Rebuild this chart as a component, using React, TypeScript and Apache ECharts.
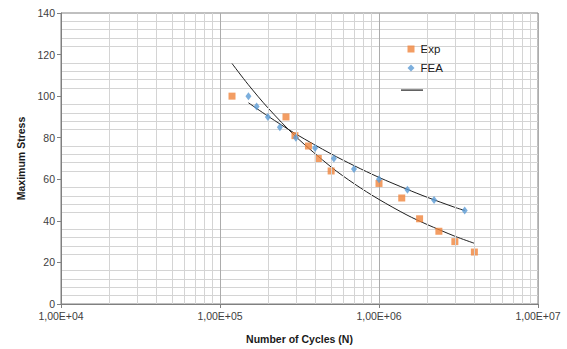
import React, { useEffect, useRef } from "react";
import * as echarts from "echarts";

const EXP_X = [1.19e5, 2.6e5, 2.96e5, 3.6e5, 4.15e5, 5.0e5, 1.0e6, 1.39e6, 1.8e6, 2.38e6, 3.0e6, 3.98e6];
const EXP_Y = [100, 90, 81, 76, 70, 64, 58, 51, 41, 35, 30, 25];

const FEA_X = [1.51e5, 1.7e5, 2.0e5, 2.38e5, 3.0e5, 3.96e5, 5.2e5, 6.96e5, 1.0e6, 1.51e6, 2.22e6, 3.46e6];
const FEA_Y = [100, 95, 90, 85, 80, 75, 70, 65, 60, 55, 50, 45];

// trend lines
const EXP_TREND_X = [1.19e5, 1.5e5, 2.0e5, 3.0e5, 5.0e5, 7.0e5, 1.0e6, 1.5e6, 2.0e6, 3.0e6, 3.98e6];
const EXP_TREND_Y = [115.7, 105.7, 94.4, 80.5, 65.9, 57.8, 50.3, 42.8, 38.3, 32.6, 29.2];

const FEA_TREND_X = [1.51e5, 2.0e5, 3.0e5, 5.0e5, 7.0e5, 1.0e6, 1.5e6, 2.0e6, 3.0e6, 3.46e6];
const FEA_TREND_Y = [96.8, 90.4, 81.8, 72.2, 66.5, 60.9, 55.2, 51.4, 46.5, 45.0];

const MINOR_X = [
  2e4, 3e4, 4e4, 5e4, 6e4, 7e4, 8e4, 9e4,
  2e5, 3e5, 4e5, 5e5, 6e5, 7e5, 8e5, 9e5,
  2e6, 3e6, 4e6, 5e6, 6e6, 7e6, 8e6, 9e6,
];

const zip = (xs: number[], ys: number[]) => xs.map((x, i) => [x, ys[i]]);

const FONT = "Liberation Sans, Arial, sans-serif";

export default function App() {
  const ref = useRef<HTMLDivElement>(null);
  useEffect(() => {
    if (!ref.current) return;
    const chart = echarts.init(ref.current, undefined, { renderer: "svg" });
    chart.setOption({
      animation: false,
      backgroundColor: "#ffffff",
      grid: {
        left: 61,
        right: 29,
        top: 13,
        bottom: 44.5,
        show: true,
        borderColor: "#808080",
        borderWidth: 1,
      },
      legend: [
        {
          data: ["Exp", "FEA"],
          orient: "vertical",
          left: 402.5,
          top: 38,
          itemWidth: 7,
          itemHeight: 7,
          itemGap: 7,
          textStyle: { fontFamily: FONT, fontSize: 11.5, color: "#1a1a1a", padding: [0, 0, 0, 1] },
          selectedMode: false,
        },
        {
          data: [{ name: "Trend", icon: "rect" }],
          left: 396,
          top: 84.5,
          itemWidth: 22,
          itemHeight: 1.2,
          formatter: () => "",
          selectedMode: false,
        },
      ],
      xAxis: {
        type: "log",
        logBase: 10,
        min: 1e4,
        max: 1e7,
        name: "Number of Cycles (N)",
        nameLocation: "middle",
        nameGap: 29,
        nameTextStyle: { fontFamily: FONT, fontSize: 10.5, fontWeight: "bold", color: "#1a1a1a" },
        axisLine: { show: true, lineStyle: { color: "#808080" } },
        axisTick: { show: true, length: 4, lineStyle: { color: "#808080" } },
        axisLabel: {
          fontFamily: FONT,
          fontSize: 10.5,
          color: "#404040",
          margin: 6,
          formatter: (v: number) => {
            const e = Math.round(Math.log10(v));
            return "1,00E+" + String(e).padStart(2, "0");
          },
        },
        splitLine: { show: true, lineStyle: { color: "#acacac", width: 1 } },
      },
      yAxis: {
        type: "value",
        min: 0,
        max: 140,
        interval: 20,
        name: "Maximum Stress",
        nameLocation: "middle",
        nameGap: 35,
        nameTextStyle: { fontFamily: FONT, fontSize: 10.5, fontWeight: "bold", color: "#1a1a1a" },
        axisLine: { show: true, lineStyle: { color: "#808080" } },
        axisTick: { show: true, length: 4, lineStyle: { color: "#808080" } },
        axisLabel: { fontFamily: FONT, fontSize: 10.5, color: "#404040", margin: 6 },
        splitLine: { show: false },
        minorTick: { show: false, splitNumber: 5 },
        minorSplitLine: { show: true, lineStyle: { color: "#d4d4d4", width: 1 } },
      },
      series: [
        {
          name: "grid-minor",
          type: "line",
          data: [],
          silent: true,
          markLine: {
            silent: true,
            symbol: "none",
            label: { show: false },
            animation: false,
            lineStyle: { color: "#d4d4d4", width: 1, type: "solid" },
            data: MINOR_X.map((x) => ({ xAxis: x })),
          },
          z: 0,
        },
        {
          name: "Trend",
          type: "line",
          data: zip(EXP_TREND_X, EXP_TREND_Y),
          showSymbol: false,
          smooth: 0.3,
          lineStyle: { color: "#1f1f1f", width: 1 },
          itemStyle: { color: "#1f1f1f" },
          z: 3,
        },
        {
          name: "Trend",
          type: "line",
          data: zip(FEA_TREND_X, FEA_TREND_Y),
          showSymbol: false,
          smooth: 0.3,
          lineStyle: { color: "#1f1f1f", width: 1 },
          itemStyle: { color: "#1f1f1f" },
          z: 3,
        },
        {
          name: "Exp",
          type: "scatter",
          data: zip(EXP_X, EXP_Y),
          symbol: "rect",
          symbolSize: 7,
          itemStyle: { color: "#f0843c" },
          z: 4,
        },
        {
          name: "FEA",
          type: "scatter",
          data: zip(FEA_X, FEA_Y),
          symbol: "diamond",
          symbolSize: [6, 8],
          itemStyle: { color: "#5b9bd5" },
          z: 5,
        },
      ],
    });
    return () => chart.dispose();
  }, []);
  return <div ref={ref} style={{ width: 567, height: 349, position: "absolute", left: 0, top: 0 }} />;
}
